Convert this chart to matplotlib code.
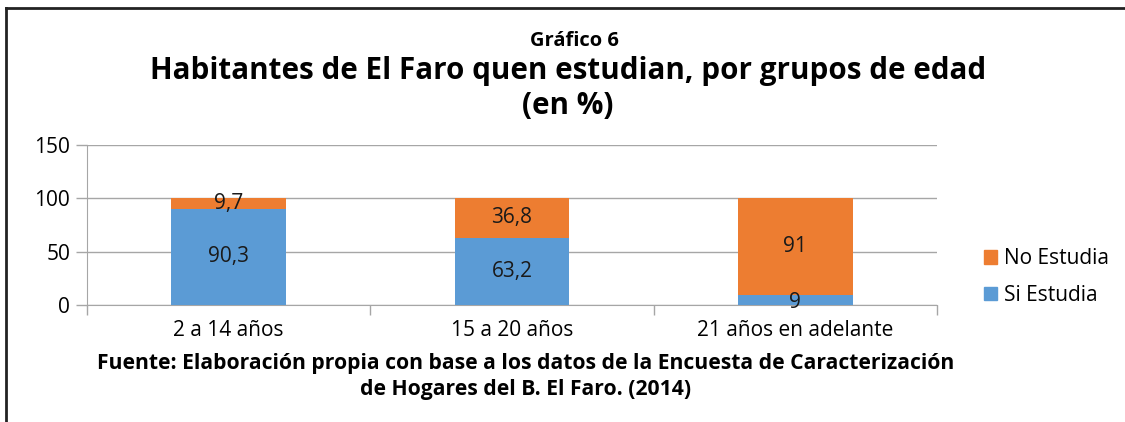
import matplotlib.pyplot as plt
from matplotlib.lines import Line2D
from matplotlib.patches import Patch
import numpy as np

plt.rcParams['font.family'] = ['Open Sans', 'DejaVu Sans']

grupos = ["2 a 14 años", "15 a 20 años", "21 años en adelante"]
si_estudia = [90.3, 63.2, 9]
no_estudia = [9.7, 36.8, 91]
si_labels = ["90,3", "63,2", "9"]
no_labels = ["9,7", "36,8", "91"]

azul = "#5B9BD5"
naranja = "#ED7D31"
gris = "#A6A6A6"

fig = plt.figure(figsize=(11.25, 4.22), dpi=100)
ax = fig.add_axes([0.0773, 0.2773, 0.7556, 0.3791])

x = np.arange(len(grupos))
w = 0.405
ax.bar(x, si_estudia, w, color=azul, zorder=3)
ax.bar(x, no_estudia, w, bottom=si_estudia, color=naranja, zorder=3)

for i in range(len(grupos)):
    s = si_estudia[i]
    n = no_estudia[i]
    y_si = s / 2 if s > 15 else 2.5
    ax.text(x[i], y_si, si_labels[i], ha="center", va="center", fontsize=15,
            color="#1a1a1a", zorder=4)
    ax.text(x[i], s + n / 2, no_labels[i], ha="center", va="center",
            fontsize=15, color="#1a1a1a", zorder=4)

ax.set_xlim(-0.5, 2.5)
ax.set_ylim(0, 150)
ax.set_yticks([0, 50, 100, 150])
ax.set_xticks(x)
ax.set_xticklabels(grupos, fontsize=15)
ax.set_xticks([-0.5, 0.5, 1.5, 2.5], minor=True)
ax.tick_params(axis="x", which="major", length=0, pad=11)
ax.tick_params(axis="x", which="minor", length=7, color=gris, width=1)
ax.tick_params(axis="y", length=8, color=gris, width=1, labelsize=15, pad=4)
ax.yaxis.grid(True, color=gris, linewidth=1, zorder=0)
for side in ["top", "right"]:
    ax.spines[side].set_visible(False)
ax.spines["left"].set_color(gris)
ax.spines["bottom"].set_color(gris)

handles = [Patch(color=naranja), Patch(color=azul)]
fig.legend(handles, ["No Estudia", "Si Estudia"], loc="center left",
           bbox_to_anchor=(0.858, 0.343), frameon=False, fontsize=15,
           handlelength=0.6, handleheight=0.6, handletextpad=0.35,
           labelspacing=0.75)

fig.text(0.511, 0.902, "Gráfico 6", ha="center", va="center", fontsize=14.5,
         fontweight="bold")
fig.text(0.505, 0.831, "Habitantes de El Faro quen estudian, por grupos de edad",
         ha="center", va="center", fontsize=21.3, fontweight="bold")
fig.text(0.505, 0.748, "(en %)", ha="center", va="center", fontsize=21.3,
         fontweight="bold")
fig.text(0.467, 0.139,
         "Fuente: Elaboración propia con base a los datos de la Encuesta de Caracterización",
         ha="center", va="center", fontsize=15.2, fontweight="bold")
fig.text(0.467, 0.077, "de Hogares del B. El Faro. (2014)", ha="center",
         va="center", fontsize=15.2, fontweight="bold")

fig.add_artist(Line2D([0.0053, 1.0], [0.981, 0.981], color="#222222",
                      linewidth=2, transform=fig.transFigure))
fig.add_artist(Line2D([0.0053, 0.0053], [0.0, 0.981], color="#222222",
                      linewidth=2, transform=fig.transFigure))

fig.savefig("out.png", dpi=100)
